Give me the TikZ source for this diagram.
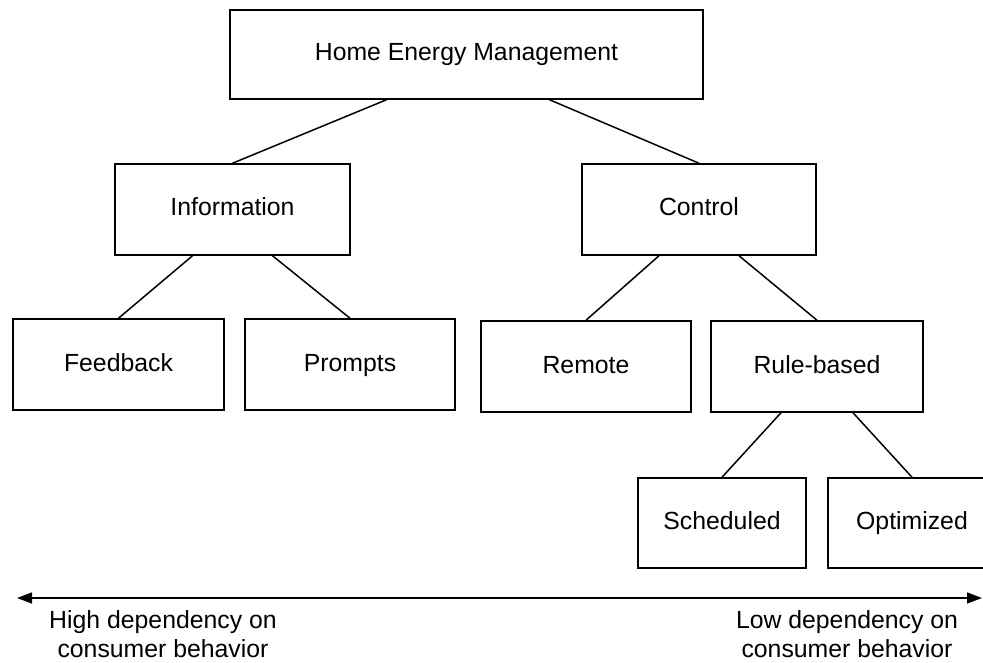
\documentclass[tikz,border=0pt]{standalone}
\usepackage{fontspec}
\setmainfont{Liberation Sans}
\usetikzlibrary{arrows.meta}

\tikzset{
  hembox/.style={rectangle, draw=black, line width=1.5pt, text=black,
    text height=18pt, text depth=5pt,
    font=\fontsize{24.8pt}{30pt}\selectfont},
  link/.style={draw=black, line width=1.5pt},
}

\begin{document}
\begin{tikzpicture}[x=1pt, y=-1pt]
    \useasboundingbox (0,0) rectangle (983,663);

    \node[hembox, minimum width=473pt, minimum height=89pt]
      (hem) at (466.5,54.5) {Home Energy Management};

    \node[hembox, minimum width=235pt, minimum height=91pt]
      (info) at (232.5,209.5) {Information};
    \node[hembox, minimum width=234pt, minimum height=91pt]
      (control) at (699,209.5) {Control};

    \node[hembox, minimum width=211pt, minimum height=91pt]
      (feedback) at (118.5,364.5) {Feedback};
    \node[hembox, minimum width=210pt, minimum height=91pt]
      (prompts) at (350,364.5) {Prompts};
    \node[hembox, minimum width=210pt, minimum height=91pt]
      (remote) at (586,366.5) {Remote};
    \node[hembox, minimum width=212pt, minimum height=91pt]
      (rulebased) at (817,366.5) {Rule-based};

    \node[hembox, minimum width=168pt, minimum height=90pt]
      (scheduled) at (722,523) {Scheduled};
    \node[hembox, minimum width=168pt, minimum height=90pt]
      (optimized) at (912,523) {Optimized};

    \draw[link] ([xshift=-80pt]hem.south) -- (info.north);
    \draw[link] ([xshift=+83pt]hem.south) -- (control.north);
    \draw[link] ([xshift=-40pt]info.south) -- (feedback.north);
    \draw[link] ([xshift=+40pt]info.south) -- (prompts.north);
    \draw[link] ([xshift=-40pt]control.south) -- (remote.north);
    \draw[link] ([xshift=+40pt]control.south) -- (rulebased.north);
    \draw[link] ([xshift=-36pt]rulebased.south) -- (scheduled.north);
    \draw[link] ([xshift=+36pt]rulebased.south) -- (optimized.north);

    % dependency scale
    \coordinate (high) at (17,598);
    \coordinate (low) at (982,598);
    \draw[link, {Triangle[length=15pt,width=11pt]}-{Triangle[length=15pt,width=11pt]}]
      (high) -- (low);

    \node[text=black, align=center, font=\fontsize{24.8pt}{29pt}\selectfont]
      (hightxt) at (163,634) {High dependency on\\consumer behavior};
    \node[text=black, align=center, font=\fontsize{24.8pt}{29pt}\selectfont]
      (lowtxt) at (847,634) {Low dependency on\\consumer behavior};
  \end{tikzpicture}
\end{document}
